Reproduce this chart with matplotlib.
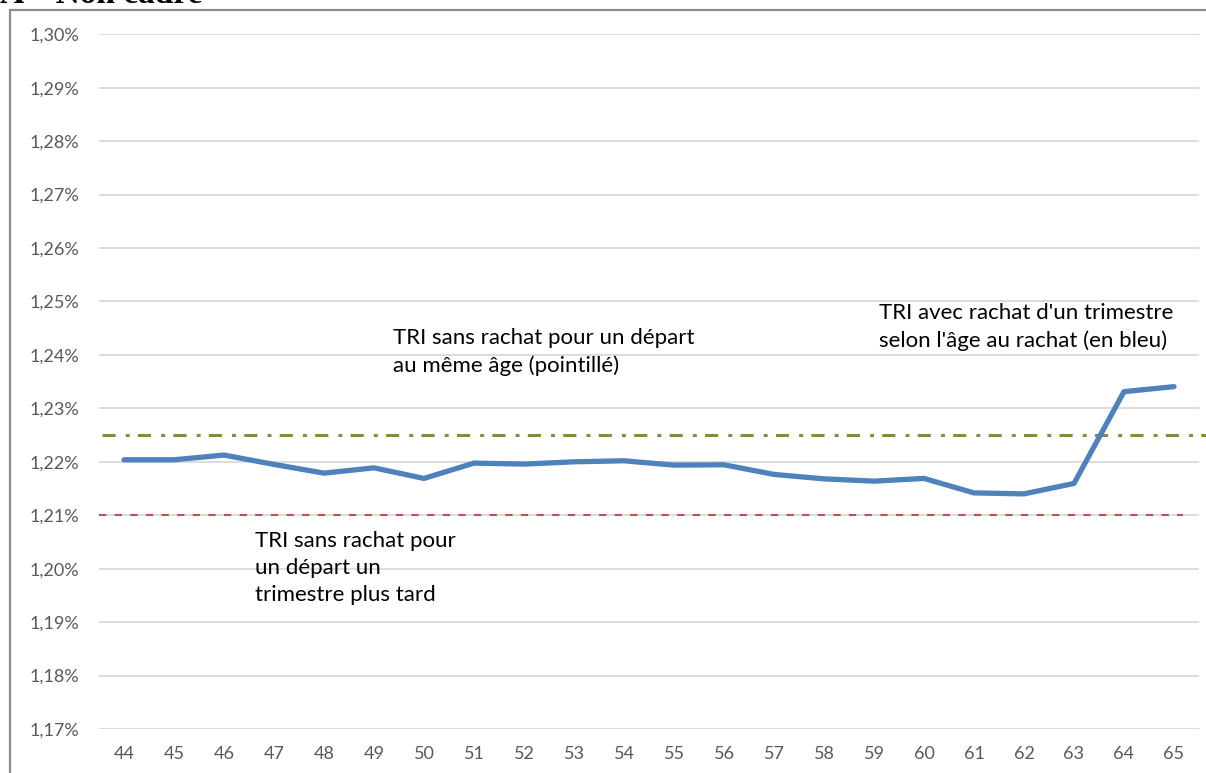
import matplotlib
matplotlib.use("Agg")
import matplotlib.pyplot as plt
from matplotlib.patches import Rectangle
from matplotlib.ticker import FuncFormatter

ages = list(range(44, 66))
tri_rachat = [1.22038, 1.22038, 1.22126, 1.21951, 1.21788, 1.21887, 1.21689,
              1.21976, 1.21957, 1.22000, 1.22019, 1.21938, 1.21944, 1.21764,
              1.21681, 1.21638, 1.21689, 1.21418, 1.21400, 1.21595, 1.23313,
              1.23407]
tri_meme_age = 1.2250
tri_plus_tard = 1.2101
y_ticks = [1.17 + 0.01 * i for i in range(14)]

W, H = 1206, 773
fig = plt.figure(figsize=(W / 100, H / 100), dpi=100)
fig.patch.set_facecolor("white")

# outer chart frame
fig.patches.append(Rectangle((10 / W, -0.05), 1.2, 1 - 9.5 / H + 0.05,
                             transform=fig.transFigure, fill=False,
                             edgecolor="#8c8c8c", linewidth=1.6, zorder=0))
# heading above chart (clipped by the picture's top edge, as in the reference)
fig.text(0.0, 1 - 3 / H, "A – Non cadre", family="Liberation Serif",
         weight="bold", fontsize=24, va="baseline", ha="left", color="black")

left, right = 99, 1199
top, bottom = 34.3, 729
ax = fig.add_axes([left / W, 1 - bottom / H, (right - left) / W, (bottom - top) / H])
ax.set_facecolor("none")

x = list(range(len(ages)))
ax.set_xlim(-0.5, len(ages) - 0.5)
ax.set_ylim(1.17, 1.30)
ax.set_yticks(y_ticks)
ax.yaxis.set_major_formatter(FuncFormatter(lambda v, p: f"{v:.2f}%".replace(".", ",")))
ax.set_xticks(x)
ax.set_xticklabels([str(a) for a in ages])
for s in ax.spines.values():
    s.set_visible(False)
ax.tick_params(length=0, labelsize=13, labelcolor="#595959")
ax.tick_params(axis="y", pad=14)
ax.tick_params(axis="x", pad=12)
for lab in ax.get_xticklabels() + ax.get_yticklabels():
    lab.set_family("Lato")
ax.grid(axis="y", color="#d9d9d9", linewidth=1.3)
ax.set_axisbelow(True)

ax.hlines(tri_plus_tard, -0.5, 21.18, colors="#c0504d", linewidth=1.5,
          linestyles=(0, (3.5, 4)), zorder=2)
ax.hlines(tri_meme_age, -0.44, 22.5, colors="#77933c", linewidth=2.2,
          linestyles=(0, (4.3, 3.3, 1.3, 2.7)), zorder=2, clip_on=False)
ax.plot(x, tri_rachat, color="#4f81bd", linewidth=3.8, solid_joinstyle="round",
        solid_capstyle="round", zorder=3)

fs = 16
ls = 1.45
fig.text(393 / W, 1 - 352 / H, "TRI sans rachat pour un départ\nau même âge (pointillé)",
         family="Lato", fontsize=fs, va="center", ha="left", linespacing=ls)
fig.text(879 / W, 1 - 327 / H, "TRI avec rachat d'un trimestre\nselon l'âge au rachat (en bleu)",
         family="Lato", fontsize=fs, va="center", ha="left", linespacing=ls)
fig.text(255 / W, 1 - 568 / H, "TRI sans rachat pour\nun départ un\ntrimestre plus tard",
         family="Lato", fontsize=fs, va="center", ha="left", linespacing=ls)

fig.savefig("out.png", dpi=100)
